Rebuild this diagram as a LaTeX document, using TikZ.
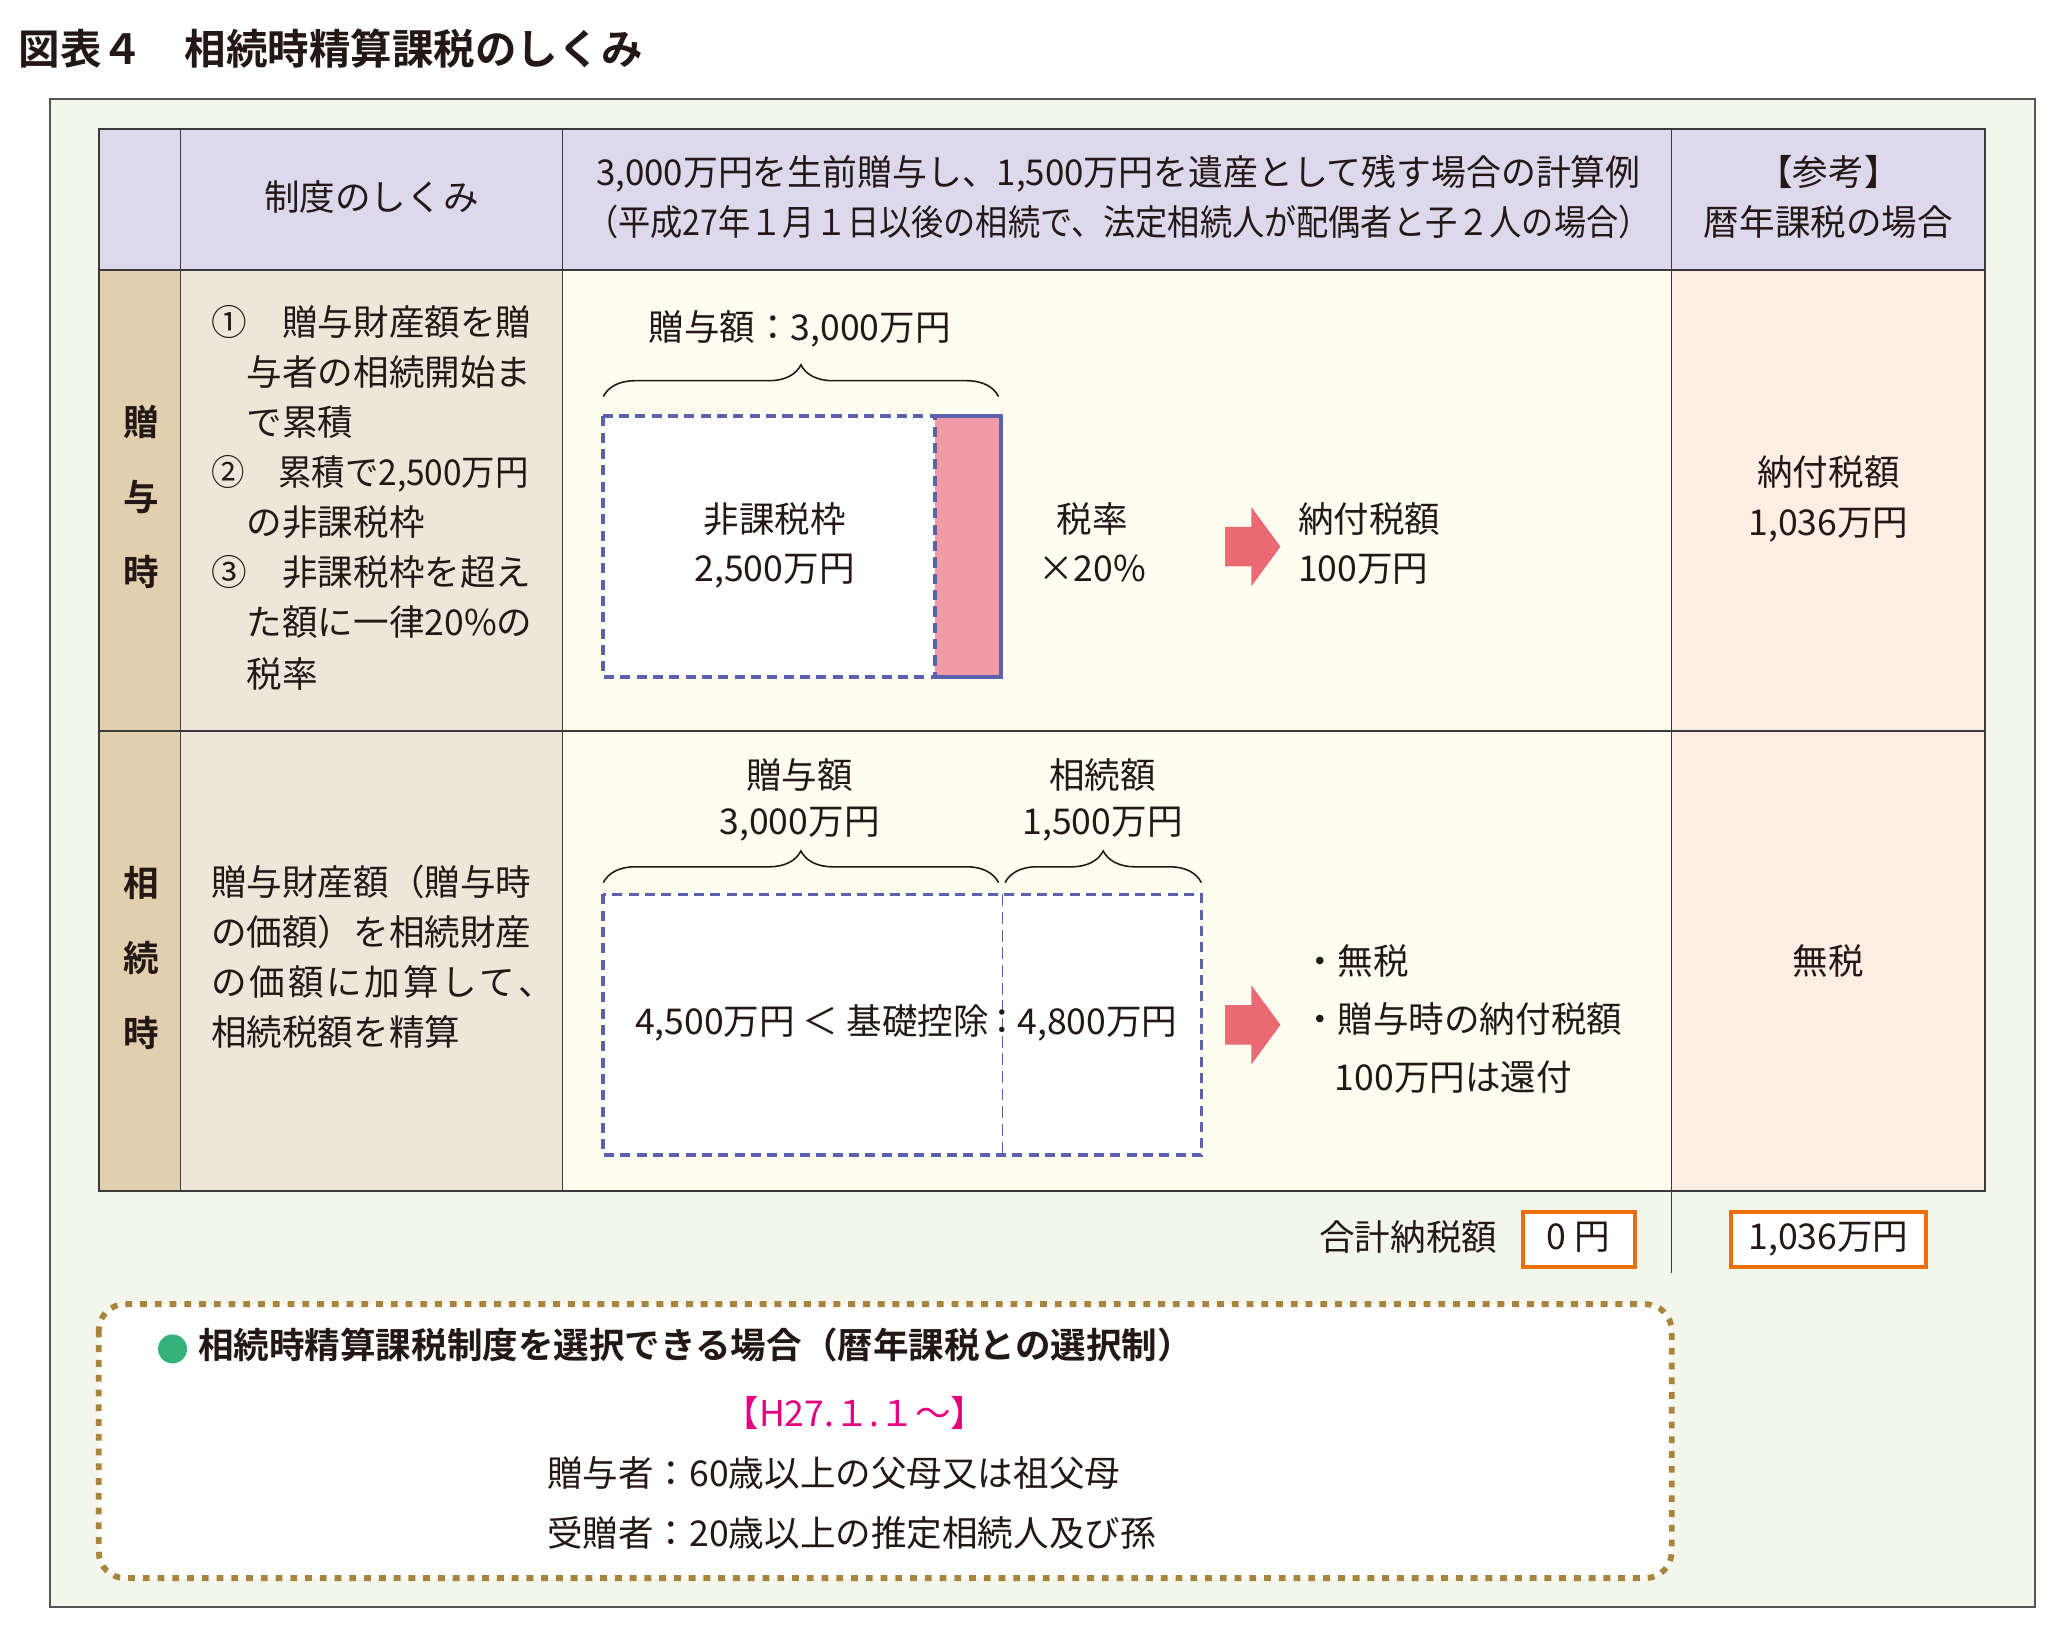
\documentclass[tikz,border=0pt]{standalone}
\usepackage{graphicx}
\usepackage{fontspec}
\setmainfont{Noto Sans CJK JP}[BoldFont={Noto Sans CJK JP Bold}]
\usetikzlibrary{decorations.pathreplacing}
\definecolor{ink}{HTML}{231815}
\definecolor{framebg}{HTML}{F3F7EB}
\definecolor{framel}{HTML}{555555}
\definecolor{headbg}{HTML}{DDD9EC}
\definecolor{colA}{HTML}{E2CFAE}
\definecolor{colB}{HTML}{EEE6D8}
\definecolor{colC}{HTML}{FEFDEF}
\definecolor{colD}{HTML}{FDEDE3}
\definecolor{tline}{HTML}{3A3A3A}
\definecolor{dashblue}{HTML}{5A62AE}
\definecolor{pinkc}{HTML}{F19BA6}
\definecolor{arrowred}{HTML}{EA6A73}
\definecolor{orangec}{HTML}{EE6E0C}
\definecolor{brownc}{HTML}{A8843C}
\definecolor{greenc}{HTML}{35B27A}
\definecolor{magc}{HTML}{E5007F}
\newcommand\mtxt{\fontsize{13.5pt}{19pt}\selectfont}
\newcommand\mtxtb{\fontsize{13.5pt}{19pt}\selectfont\bfseries}
\newcommand\mttl{\fontsize{15.75pt}{19pt}\selectfont\bfseries}
\begin{document}
\begin{tikzpicture}[x=0.5pt,y=-0.5pt,
  t/.style={inner sep=0pt, text=ink, font=\mtxt, text height=0.88em, text depth=0.12em},
  tl/.style={t, anchor=west},
  tr/.style={t, anchor=east},
  tb/.style={t, font=\mtxtb},
  cellline/.style={draw=tline, line width=0.6pt},
  bluedash/.style={draw=dashblue, line width=1.4pt, dash pattern=on 3.8pt off 2.4pt},
  thindash/.style={draw=dashblue, line width=0.7pt, dash pattern=on 4.5pt off 2.2pt},
  bracestyle/.style={draw=ink, line width=0.6pt, decorate, decoration={brace, amplitude=12pt}},
  orangebox/.style={draw=orangec, line width=1.5pt, fill=white},
  bigarrow/.style={fill=arrowred, draw=none}
]
\useasboundingbox (0,0) rectangle (1560,1236);
\fill[white] (0,0) rectangle (1560,1236);

% title
\node[inner sep=0pt, anchor=west, text=ink, font=\mttl] (title) at (14,37) {図表４　相続時精算課税のしくみ};

% outer frame
\draw[fill=framebg, draw=framel, line width=0.8pt] (38,75) rectangle (1545,1220);

% table fills
\fill[headbg] (75,98) rectangle (1507,205);
\fill[colA] (75,205) rectangle (137,904);
\fill[colB] (137,205) rectangle (427,904);
\fill[colC] (427,205) rectangle (1269,904);
\fill[colD] (1269,205) rectangle (1507,904);
% table lines
\draw[cellline] (75,98) rectangle (1507,904);
\draw[cellline] (137,98) -- (137,904);
\draw[cellline] (427,98) -- (427,904);
\draw[cellline] (1269,98) -- (1269,966);
\draw[cellline] (75,205) -- (1507,205);
\draw[cellline] (75,555) -- (1507,555);

% header
\node[t] (h2) at (282,152) {制度のしくみ};
\node[t] (h3a) at (849,133) {\scalebox{0.98}[1]{3,000万円を生前贈与し、1,500万円を遺産として残す場合の計算例}};
\node[t] (h3b) at (849,171) {\scalebox{0.905}[1]{（平成27年１月１日以後の相続で、法定相続人が配偶者と子２人の場合）}};
\node[t] (h4a) at (1388,133) {【参考】};
\node[t] (h4b) at (1388,171) {暦年課税の場合};

% row 1 col 1
\node[tb] (r1a) at (107,323) {贈};
\node[tb] (r1b) at (107,380) {与};
\node[tb] (r1c) at (107,437) {時};
% row 1 col 2
\node[tl] (l1) at (160,247) {①　贈与財産額を贈};
\node[tl] (l2) at (187,285) {与者の相続開始ま};
\node[tl] (l3) at (187,323) {で累積};
\node[tl] (l4) at (160,361) {\scalebox{0.94}[1]{②　累積で2,500万円}};
\node[tl] (l5) at (187,399) {の非課税枠};
\node[tl] (l6) at (160,437) {③　非課税枠を超え};
\node[tl] (l7) at (187,475) {た額に一律20\%の};
\node[tl] (l8) at (187,514) {税率};

% row 1 col 3
\node[t] (g1lab) at (607,251) {贈与額：3,000万円};
\coordinate (g1L) at (458,301);
\coordinate (g1R) at (758,301);
\draw[bracestyle] (g1L) -- (g1R);
\fill[pinkc] (710,316) rectangle (760,514);
\draw[draw=dashblue, line width=1.4pt] (710,316) -- (760,316) -- (760,514) -- (710,514);
\draw[bluedash, fill=white] (458,316) rectangle (710,514);
\node[t] (nt1) at (588,397) {非課税枠};
\node[t] (nt2) at (588,434) {2,500万円};
\node[t] (tx1) at (829,397) {税率};
\node[t] (tx2) at (829,434) {×20\%};
\fill[bigarrow] (930,400) -- (950,400) -- (950,385) -- (972,415) -- (950,445) -- (950,430) -- (930,430) -- cycle;
\node[tl] (pay1) at (985,397) {納付税額};
\node[tl] (pay2) at (985,434) {100万円};

% row 1 col 4
\node[t] (ref1a) at (1388,361) {納付税額};
\node[t] (ref1b) at (1388,399) {1,036万円};

% row 2 col 1
\node[tb] (r2a) at (107,673) {相};
\node[tb] (r2b) at (107,730) {続};
\node[tb] (r2c) at (107,787) {時};
% row 2 col 2
\node[tl] (m1) at (160,672) {贈与財産額（贈与時};
\node[tl] (m2) at (160,710) {の価額）を相続財産};
\node[tl] (m3) at (160,748) {\makebox[130pt][s]{の\hfill 価\hfill 額\hfill に\hfill 加\hfill 算\hfill し\hfill て\hfill 、}};
\node[tl] (m4) at (160,786) {相続税額を精算};

% row 2 col 3
\node[t] (g2a) at (607,591) {贈与額};
\node[t] (g2b) at (607,626) {3,000万円};
\node[t] (s2a) at (837,591) {相続額};
\node[t] (s2b) at (837,626) {1,500万円};
\coordinate (b2L) at (458,670);
\coordinate (b2M) at (758,670);
\coordinate (b3L) at (763,670);
\coordinate (b3R) at (912,670);
\draw[bracestyle] (b2L) -- (b2M);
\draw[bracestyle] (b3L) -- (b3R);
\draw[bluedash, fill=white] (458,679) rectangle (912,877);
\draw[thindash] (761,679) -- (761,877);
\node[tr] (cmpL) at (751,778) {4,500万円 ＜ 基礎控除};
\node[t] (colon) at (761,778) {：};
\node[tl] (cmpR) at (772,778) {4,800万円};
\fill[bigarrow] (930,763) -- (950,763) -- (950,748) -- (972,778) -- (950,808) -- (950,793) -- (930,793) -- cycle;
\node[tl] (res1) at (988,732) {・無税};
\node[tl] (res2) at (988,776) {・贈与時の納付税額};
\node[tl] (res3) at (1013,820) {100万円は還付};

% row 2 col 4
\node[t] (ref2) at (1388,732) {無税};

% totals
\node[tr] (tot) at (1137,942) {合計納税額};
\draw[orangebox] (1156,920) rectangle (1241,962);
\node[t] (tot1) at (1198,941) {0 円};
\draw[orangebox] (1314,920) rectangle (1462,962);
\node[t] (tot2) at (1388,941) {1,036万円};

% bottom box
\draw[draw=brownc, line width=2.2pt, dash pattern=on 2.6pt off 3.0pt, fill=white, rounded corners=10pt] (75,990) rectangle (1269,1198);
\fill[greenc] (131,1024) circle (11);
\node[tb, anchor=west] (bh) at (150,1024) {相続時精算課税制度を選択できる場合（暦年課税との選択制）};
\node[t, text=magc] (bdate) at (649,1075) {【H27.１.１～】};
\node[tl] (bg1) at (415,1121) {贈与者：60歳以上の父母又は祖父母};
\node[tl] (bg2) at (415,1166) {受贈者：20歳以上の推定相続人及び孫};
\end{tikzpicture}
\end{document}
